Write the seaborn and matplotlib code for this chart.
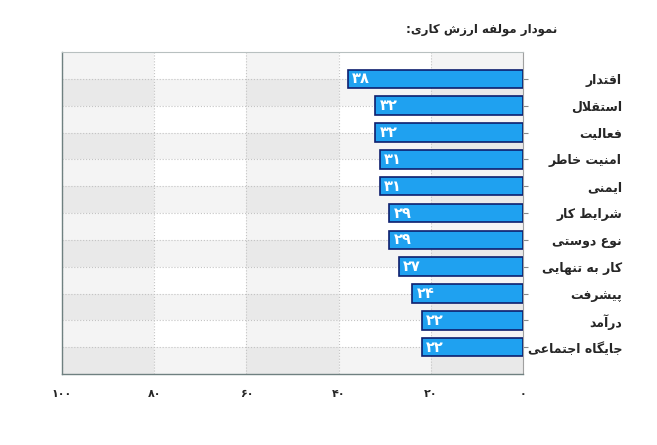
import matplotlib
matplotlib.use('Agg')
import matplotlib.pyplot as plt
import pandas as pd
import seaborn as sns

# chart data (logical Persian text, shaped for display below)
categories = ['اقتدار', 'استقلال', 'فعالیت', 'امنیت خاطر', 'ایمنی', 'شرایط کار',
              'نوع دوستی', 'کار به تنهایی', 'پیشرفت', 'درآمد', 'جایگاه اجتماعی']
values = [38, 32, 32, 31, 31, 29, 29, 27, 24, 22, 22]
x_ticks = [100, 80, 60, 40, 20, 0]
title = 'نمودار مولفه ارزش کاری:'

# matplotlib has no arabic shaping, so map letters to presentation forms by hand
# isolated, final, initial, medial
FORMS = {
    'ا': ('\ufe8d', '\ufe8e', None, None),
    'آ': ('\ufe81', '\ufe82', None, None),
    'ب': ('\ufe8f', '\ufe90', '\ufe91', '\ufe92'),
    'پ': ('\ufb56', '\ufb57', '\ufb58', '\ufb59'),
    'ت': ('\ufe95', '\ufe96', '\ufe97', '\ufe98'),
    'ج': ('\ufe9d', '\ufe9e', '\ufe9f', '\ufea0'),
    'خ': ('\ufea5', '\ufea6', '\ufea7', '\ufea8'),
    'د': ('\ufea9', '\ufeaa', None, None),
    'ر': ('\ufead', '\ufeae', None, None),
    'ز': ('\ufeaf', '\ufeb0', None, None),
    'س': ('\ufeb1', '\ufeb2', '\ufeb3', '\ufeb4'),
    'ش': ('\ufeb5', '\ufeb6', '\ufeb7', '\ufeb8'),
    'ط': ('\ufec1', '\ufec2', '\ufec3', '\ufec4'),
    'ع': ('\ufec9', '\ufeca', '\ufecb', '\ufecc'),
    'ف': ('\ufed1', '\ufed2', '\ufed3', '\ufed4'),
    'ق': ('\ufed5', '\ufed6', '\ufed7', '\ufed8'),
    'ک': ('\ufb8e', '\ufb8f', '\ufb90', '\ufb91'),
    'گ': ('\ufb92', '\ufb93', '\ufb94', '\ufb95'),
    'ل': ('\ufedd', '\ufede', '\ufedf', '\ufee0'),
    'م': ('\ufee1', '\ufee2', '\ufee3', '\ufee4'),
    'ن': ('\ufee5', '\ufee6', '\ufee7', '\ufee8'),
    'و': ('\ufeed', '\ufeee', None, None),
    'ه': ('\ufee9', '\ufeea', '\ufeeb', '\ufeec'),
    'ی': ('\ufbfc', '\ufbfd', '\ufbfe', '\ufbff'),
}
LAM_ALEF = {'ا': ('\ufefb', '\ufefc'), 'آ': ('\ufef5', '\ufef6')}


def shape(text):
    out = []
    i = 0
    n = len(text)
    while i < n:
        c = text[i]
        if c not in FORMS:
            out.append(c)
            i += 1
            continue
        prev = text[i - 1] if i > 0 else ''
        joins_prev = prev in FORMS and FORMS[prev][2] is not None
        if c == 'ل' and i + 1 < n and text[i + 1] in LAM_ALEF:
            out.append(LAM_ALEF[text[i + 1]][1 if joins_prev else 0])
            i += 2
            continue
        nxt = text[i + 1] if i + 1 < n else ''
        joins_next = FORMS[c][2] is not None and nxt in FORMS
        iso, fin, ini, med = FORMS[c]
        if joins_prev and joins_next:
            out.append(med)
        elif joins_prev:
            out.append(fin)
        elif joins_next:
            out.append(ini)
        else:
            out.append(iso)
        i += 1
    return ''.join(reversed(out))


def fa_digits(v):
    return str(v).translate(str.maketrans('0123456789', '۰۱۲۳۴۵۶۷۸۹'))


df = pd.DataFrame({'label': [shape(c) for c in categories], 'value': values})

sns.set_style('white')
plt.rcParams['font.family'] = ['DejaVu Sans']

fig = plt.figure(figsize=(6.57, 4.45), dpi=100)
ax = fig.add_axes([62 / 657, 1 - 374 / 445, (523 - 62) / 657, (374 - 52) / 445])

ax = sns.barplot(data=df, x='value', y='label', orient='h', color='#1fa1f0',
                 saturation=1, edgecolor='#0e1f6e', linewidth=1.2, width=0.69,
                 ax=ax, zorder=3)

ax.set_xlim(100, 0)
ax.set_ylim(len(categories), -1)

# checkered background: alternate row bands and column bands
for k in range(0, len(categories), 2):
    ax.axhspan(k, k + 1, color='#000000', alpha=0.045, lw=0, zorder=0)
for lo in (100, 60, 20):
    ax.axvspan(lo, lo - 20, color='#000000', alpha=0.045, lw=0, zorder=0)

ax.set_xticks(x_ticks)
ax.set_xticklabels([fa_digits(t) for t in x_ticks], fontsize=8, fontweight='bold')
ax.yaxis.tick_right()
ax.set_yticks(range(len(categories)))
ax.set_yticklabels(df['label'], fontsize=9, fontweight='bold', ha='right')
ax.tick_params(axis='y', length=3.6, pad=67.7, color='#888888')
ax.tick_params(axis='x', length=4, pad=7, color='#667777')

ax.grid(True, axis='both', color='#c4c4c4', linestyle=':', linewidth=0.8, zorder=1)
ax.set_axisbelow(True)

for side in ('left', 'bottom'):
    ax.spines[side].set_color('#6f8080')
    ax.spines[side].set_linewidth(1.0)
ax.spines['right'].set_color('#a0a0a0')
ax.spines['top'].set_color('#b8c0c0')

for i, v in enumerate(values):
    ax.annotate(fa_digits(v), xy=(v, i), xytext=(3, 0), textcoords='offset points',
                ha='left', va='center', color='white', fontsize=10.5,
                fontweight='bold', zorder=4)

ax.set_xlabel('')
ax.set_ylabel('')
fig.text(557 / 657, 1 - 30 / 445, shape(title), ha='right', va='center',
         fontsize=8.5, fontweight='bold')

fig.savefig('out.png', dpi=100)
